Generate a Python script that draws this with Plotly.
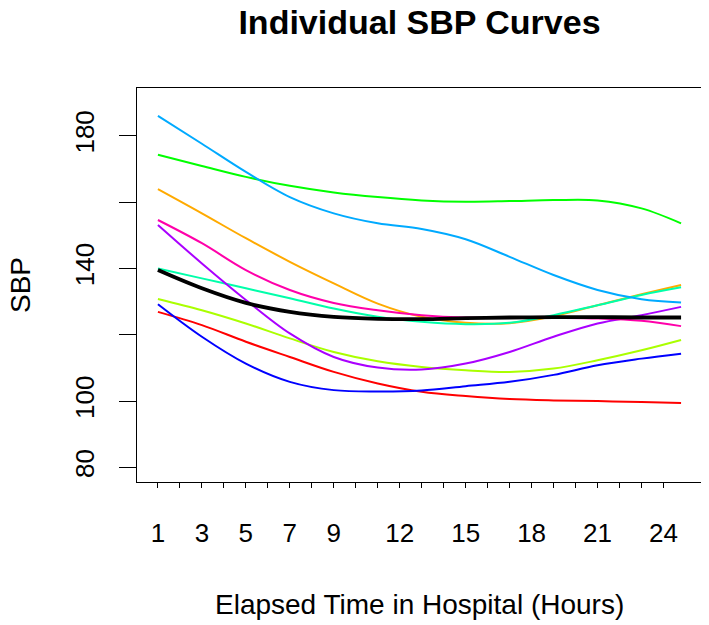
import plotly.graph_objects as go

hours = [1, 3, 5, 7, 9, 11, 13, 15, 17, 19, 21, 23, 24.8]

red = [126.9, 122.9, 117.9, 113.3, 108.8, 105.3, 102.8, 101.5, 100.6, 100.2, 100.0, 99.7, 99.4]
orange = [163.9, 156.6, 149.1, 142.0, 135.5, 129.4, 125.4, 123.6, 123.5, 125.6, 128.9, 132.2, 135.0]
yellowgreen = [130.8, 127.4, 123.4, 118.9, 114.8, 112.0, 110.3, 109.3, 108.8, 109.8, 112.3, 115.3, 118.4]
green = [174.3, 170.9, 167.6, 164.9, 162.9, 161.5, 160.5, 160.1, 160.3, 160.6, 160.5, 158.1, 153.6]
aqua = [140.0, 137.0, 134.0, 131.0, 127.9, 125.4, 123.9, 123.2, 123.6, 125.9, 128.9, 132.0, 134.3]
skyblue = [186.0, 177.6, 169.1, 161.5, 156.6, 153.6, 151.9, 148.8, 143.5, 138.0, 133.5, 130.7, 129.7]
blue = [129.2, 119.4, 111.3, 105.8, 103.3, 102.9, 103.2, 104.5, 105.8, 107.9, 110.8, 112.8, 114.3]
purple = [153.1, 141.5, 130.5, 120.4, 113.3, 110.1, 109.5, 111.3, 114.8, 119.4, 123.4, 125.9, 128.4]
pink = [154.6, 147.6, 139.5, 133.5, 129.6, 127.4, 125.9, 125.2, 125.2, 125.1, 124.9, 124.2, 122.6]
mean_curve = [139.5, 134.0, 129.6, 126.9, 125.4, 124.8, 124.7, 125.0, 125.2, 125.3, 125.3, 125.2, 125.2]

series = [red, orange, yellowgreen, green, aqua, skyblue, blue, purple, pink]
colors = ["#FF0000", "#FFAA00", "#AAFF00", "#00FF00", "#00FFAA",
          "#00AAFF", "#0000FF", "#AA00FF", "#FF00AA"]

x_ticks = list(range(1, 25))
x_labels_shown = [1, 3, 5, 7, 9, 12, 15, 18, 21, 24]
x_ticktext = [str(v) if v in x_labels_shown else "" for v in x_ticks]
y_ticks = [80, 100, 120, 140, 160, 180]
y_ticktext = ["80", "100", "", "140", "", "180"]

fig = go.Figure()
for ys, c in zip(series, colors):
    fig.add_trace(go.Scatter(x=hours, y=ys, mode="lines",
                             line=dict(color=c, width=2, shape="spline", smoothing=1.0),
                             showlegend=False, hoverinfo="skip"))
fig.add_trace(go.Scatter(x=hours, y=mean_curve, mode="lines",
                         line=dict(color="black", width=3.8, shape="spline", smoothing=1.0),
                         showlegend=False, hoverinfo="skip"))

font = "Arial, Liberation Sans, sans-serif"
xpad = 0.04 * (24.8 - 1)
ypad = 0.04 * (190 - 80)

# page body has an 8px margin; size the figure so the plot lands where the reference has it
OFF = 8
W, H = 709 - OFF, 625 - OFF
L, T = 137 - OFF, 88 - OFF
R = W - (702 - OFF)
B = H - (482 - OFF)
pw, ph = W - L - R, H - T - B

fig.update_layout(
    width=W, height=H,
    margin=dict(l=L, r=R, t=T, b=B, autoexpand=False),
    plot_bgcolor="white", paper_bgcolor="white",
    font=dict(family=font, color="black"),
    title=dict(text="<b>Individual SBP Curves</b>", x=0.5, xref="paper",
               y=1 - (22 - OFF) / H, yref="container", yanchor="middle",
               font=dict(size=34, family=font, color="black")),
    xaxis=dict(range=[1 - xpad, 24.8 + xpad], tickmode="array", tickvals=x_ticks,
               ticktext=x_ticktext, ticks="outside", ticklen=5, tickwidth=1,
               tickcolor="black", showline=True, linecolor="black", linewidth=1.2,
               mirror=True, showgrid=False, zeroline=False, automargin=False,
               tickfont=dict(size=26, family=font, color="black"),
               ticklabelstandoff=23),
    yaxis=dict(range=[80 - ypad, 190 + ypad], tickmode="array", tickvals=y_ticks,
               ticktext=y_ticktext, ticks="outside", ticklen=17, tickwidth=1,
               tickcolor="black", showline=True, linecolor="black", linewidth=1.2,
               mirror=True, showgrid=False, zeroline=False, tickangle=-90,
               automargin=False,
               tickfont=dict(size=26, family=font, color="black"),
               ticklabelstandoff=15),
    annotations=[
        dict(text="Elapsed Time in Hospital (Hours)", x=0.5, xref="paper",
             y=(H - B - (604 - OFF)) / ph, yref="paper", yanchor="middle", showarrow=False,
             font=dict(size=28, family=font, color="black")),
        dict(text="SBP", x=((20 - OFF) - L) / pw, xref="paper", y=0.5, yref="paper",
             textangle=-90, showarrow=False, xanchor="center", yanchor="middle",
             font=dict(size=28, family=font, color="black")),
    ],
)

fig.write_html("out.html")
